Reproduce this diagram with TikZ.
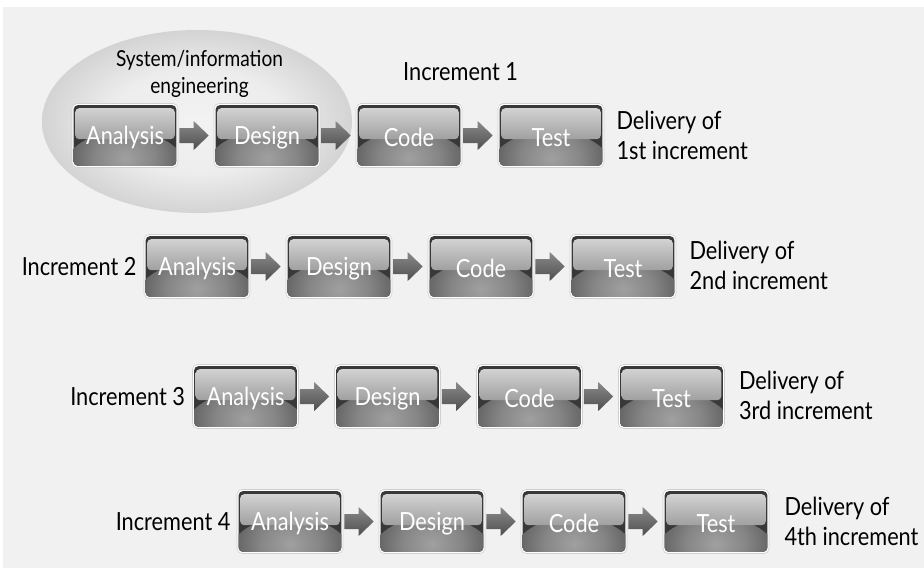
\documentclass[tikz,border=0pt]{standalone}
\usepackage{fontspec}
\setmainfont{Lato}[FakeStretch=0.87]
\usetikzlibrary{calc}
\definecolor{bggray}{HTML}{F1F1F1}
\definecolor{boxdark}{HTML}{383838}
\definecolor{boxlight}{HTML}{A0A0A0}
\definecolor{glosstop}{HTML}{D2D2D2}
\definecolor{glossbot}{HTML}{A0A0A0}
\definecolor{arrtop}{HTML}{8A8A8A}
\definecolor{arrbot}{HTML}{4E4E4E}
\definecolor{boxrim}{HTML}{D0D0D0}
\pgfdeclareradialshading{ellsh}{\pgfpoint{0bp}{0bp}}{color(0bp)=(white!95!black); color(14bp)=(white!93!black); color(26bp)=(white!82!black); color(35bp)=(white!62!black); color(50bp)=(white!62!black)}
\pgfdeclareradialshading{boxsh}{\pgfpoint{0bp}{0bp}}{color(0bp)=(boxlight); color(12bp)=(boxlight!75!boxdark); color(24bp)=(boxlight!35!boxdark); color(35bp)=(boxdark); color(50bp)=(boxdark)}
\tikzset{
  stepbox/.style={minimum width=106pt, minimum height=64pt, rounded corners=5pt, fill=white, draw=boxrim, line width=0.6pt, inner sep=0pt},
  boxtext/.style={text=white, font=\fontsize{25}{30}\selectfont, inner sep=0pt},
  lbl/.style={text=black, font=\fontsize{25}{30}\selectfont, inner sep=0pt},
  dlv/.style={lbl, align=left, anchor=west},
}
\newcommand\incbox[4]{%
  \node[stepbox] (#1) at (#2,#3) {};
  \path[fill=boxdark, rounded corners=4pt,
    path picture={\shade[shading=boxsh] ($(path picture bounding box.south)+(0,5)$) ellipse (62 and 40);}]
    ($(#1.north west)+(2,2)$) rectangle ($(#1.south east)+(-2,-2)$);
  \shade[top color=glosstop, bottom color=glossbot, rounded corners=4pt]
    ($(#1.north west)+(3.5,5)$) rectangle ($(#1.north east)+(-3.5,36)$);
  \node[boxtext] (#1t) at ($(#1.center)+(0,2)$) {#4};
}
\newcommand\incarrow[2]{%
  \shade[top color=arrtop, bottom color=arrbot]
    ($(#1.east)+(1,-7.5)$) -- ($(#2.west)+(-20,-7.5)$) -- ($(#2.west)+(-20,-14.5)$)
    -- ($(#2.west)+(-5,0)$) -- ($(#2.west)+(-20,14.5)$) -- ($(#2.west)+(-20,7.5)$)
    -- ($(#1.east)+(1,7.5)$) -- cycle;
}
\begin{document}
\begin{tikzpicture}[x=1pt,y=-1pt]
\useasboundingbox (0,0) rectangle (924,571);
\fill[white] (0,0) rectangle (924,571);
\fill[bggray] (3,7) rectangle (924,568);
% system/information engineering ellipse
\shade[shading=ellsh] (197,121.5) ellipse (155 and 91.5);
\node[font=\fontsize{22}{27}\selectfont, align=center, inner sep=0pt] (sie) at (199.5,74) {System/information\\engineering};
% row 1
\incbox{a1}{125}{135.5}{Analysis}
\incbox{d1}{267}{135.5}{Design}
\incbox{c1}{409}{135.5}{Code}
\incbox{t1}{551}{135.5}{Test}
\incarrow{a1}{d1}\incarrow{d1}{c1}\incarrow{c1}{t1}
\node[lbl, anchor=west] (i1) at (403,72) {Increment 1};
\node[dlv] (v1) at ($(t1.east)+(12,0)$) {Delivery of\\1st increment};
% row 2
\incbox{a2}{197}{266.5}{Analysis}
\incbox{d2}{339}{266.5}{Design}
\incbox{c2}{481}{266.5}{Code}
\incbox{t2}{623}{266.5}{Test}
\incarrow{a2}{d2}\incarrow{d2}{c2}\incarrow{c2}{t2}
\node[lbl, anchor=east] (i2) at ($(a2.west)+(-7,0)$) {Increment 2};
\node[dlv] (v2) at ($(t2.east)+(13,-1)$) {Delivery of\\2nd increment};
% row 3
\incbox{a3}{245.5}{396.5}{Analysis}
\incbox{d3}{387.5}{396.5}{Design}
\incbox{c3}{529.5}{396.5}{Code}
\incbox{t3}{671.5}{396.5}{Test}
\incarrow{a3}{d3}\incarrow{d3}{c3}\incarrow{c3}{t3}
\node[lbl, anchor=east] (i3) at ($(a3.west)+(-7,0)$) {Increment 3};
\node[dlv] (v3) at ($(t3.east)+(14,-1)$) {Delivery of\\3rd increment};
% row 4
\incbox{a4}{290}{521.5}{Analysis}
\incbox{d4}{432}{521.5}{Design}
\incbox{c4}{574}{521.5}{Code}
\incbox{t4}{716}{521.5}{Test}
\incarrow{a4}{d4}\incarrow{d4}{c4}\incarrow{c4}{t4}
\node[lbl, anchor=east] (i4) at ($(a4.west)+(-6,0)$) {Increment 4};
\node[dlv] (v4) at ($(t4.east)+(15,0)$) {Delivery of\\4th increment};
\end{tikzpicture}
\end{document}
